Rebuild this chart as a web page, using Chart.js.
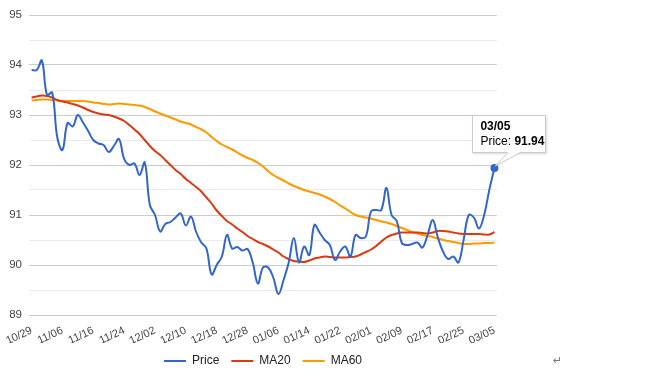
<!DOCTYPE html>
<html lang="en">
<head>
<meta charset="UTF-8">
<title>Price / MA20 / MA60</title>
<script src="https://cdn.jsdelivr.net/npm/chart.js@4.4.0/dist/chart.umd.min.js"></script>
<style>
  body { margin: 0; background: #fff; }
  .wrap { position: relative; width: 670px; height: 377px; }
  #tip {
    position: absolute; box-sizing: border-box; width: 74px; height: 38px;
    background: #fff; border: 1px solid #ccc; box-shadow: 1px 1px 2px rgba(0,0,0,0.15);
    font: 12px "Liberation Sans", Arial, sans-serif; color: #000;
    padding: 3px 0 0 7px; line-height: 15px; white-space: nowrap;
  }
  #tip b { font-weight: bold; }
  #tail { position: absolute; left: 0; top: 0; pointer-events: none; }
  .mark { position: absolute; left: 553px; top: 354px; font: 11px "DejaVu Sans", sans-serif; color: #777; }
</style>
</head>
<body>
<div class="wrap">
  <canvas id="chart" width="670" height="377"></canvas>
  <div id="tip"><b>03/05</b><br>Price: <b>91.94</b></div>
  <svg id="tail" width="670" height="377"></svg>
  <span class="mark">↵</span>
</div>
<script>
// trading days on the category axis
const dates = [
  '10/29','10/30','10/31','11/01','11/04','11/05',
  '11/06','11/07','11/08','11/11','11/12','11/14',
  '11/16','11/18','11/19','11/20','11/21','11/22',
  '11/24','11/25','11/26','11/27','11/28','11/29',
  '12/02','12/03','12/04','12/05','12/06','12/09',
  '12/10','12/11','12/12','12/13','12/16','12/17',
  '12/18','12/19','12/20','12/23','12/24','12/26',
  '12/28','12/30','12/31','01/02','01/03','01/04',
  '01/06','01/07','01/08','01/09','01/10','01/13',
  '01/14','01/15','01/16','01/17','01/20','01/21',
  '01/22','01/23','01/24','01/27','01/29','01/31',
  '02/01','02/03','02/04','02/05','02/06','02/07',
  '02/09','02/10','02/11','02/12','02/13','02/14',
  '02/17','02/18','02/19','02/20','02/21','02/24',
  '02/25','02/26','02/27','02/28','03/02','03/03',
  '03/05'
];

// labels printed under the axis
const tickLabels = ['10/29','11/06','11/16','11/24','12/02','12/10','12/18','12/28',
  '01/06','01/14','01/22','02/01','02/09','02/17','02/25','03/05'];

const price = [
  93.9, 93.9, 94.09, 93.4, 93.45, 92.55, 92.3, 92.84, 92.77, 93.0,
  92.85, 92.68, 92.5, 92.43, 92.4, 92.26, 92.38, 92.52, 92.12, 92.0,
  92.03, 91.8, 92.05, 91.2, 91.0, 90.67, 90.82, 90.86, 90.95, 91.03,
  90.79, 90.97, 90.66, 90.45, 90.33, 89.81, 90.0, 90.17, 90.6, 90.33,
  90.36, 90.29, 90.32, 90.05, 89.63, 89.95, 89.95, 89.75, 89.42, 89.7,
  90.05, 90.54, 90.05, 90.37, 90.2, 90.8, 90.65, 90.5, 90.4, 90.1,
  90.27, 90.37, 90.17, 90.6, 90.54, 90.57, 91.07, 91.1, 91.1, 91.54,
  91.0, 90.88, 90.44, 90.4, 90.42, 90.45, 90.35, 90.6, 90.9, 90.55,
  90.27, 90.12, 90.17, 90.05, 90.5, 91.0, 90.95, 90.73, 91.0, 91.5,
  91.94
];

const ma20 = [
  93.35, 93.37, 93.39, 93.38, 93.35, 93.3, 93.27, 93.25, 93.22, 93.19,
  93.15, 93.1, 93.06, 93.03, 93.01, 93.0, 92.97, 92.93, 92.88, 92.8,
  92.71, 92.62, 92.5, 92.38, 92.28, 92.2, 92.1, 92.0, 91.9, 91.82,
  91.72, 91.64, 91.56, 91.47, 91.35, 91.23, 91.09, 90.98, 90.88, 90.81,
  90.73, 90.66, 90.58, 90.52, 90.46, 90.42, 90.37, 90.31, 90.25, 90.17,
  90.12, 90.08, 90.07, 90.06, 90.09, 90.13, 90.15, 90.17, 90.16, 90.15,
  90.15, 90.15, 90.16, 90.17, 90.21, 90.26, 90.31, 90.38, 90.47, 90.55,
  90.6, 90.63, 90.65, 90.65, 90.65, 90.65, 90.64, 90.63, 90.65, 90.68,
  90.68, 90.67, 90.65, 90.63, 90.62, 90.62, 90.62, 90.62, 90.61, 90.61,
  90.66
];

const ma60 = [
  93.29, 93.3, 93.31, 93.31, 93.3, 93.29, 93.28, 93.28, 93.28, 93.28,
  93.28, 93.27, 93.25, 93.24, 93.22, 93.21, 93.22, 93.23, 93.22, 93.21,
  93.2, 93.19, 93.16, 93.12, 93.07, 93.03, 92.99, 92.95, 92.91, 92.87,
  92.84, 92.81, 92.76, 92.71, 92.65, 92.56, 92.48, 92.41, 92.36, 92.31,
  92.25, 92.19, 92.14, 92.1, 92.04, 91.97, 91.88, 91.8, 91.74, 91.69,
  91.63, 91.58, 91.54, 91.5, 91.47, 91.44, 91.41, 91.37, 91.32, 91.26,
  91.19, 91.13, 91.06, 91.0, 90.97, 90.95, 90.93, 90.9, 90.87, 90.85,
  90.82, 90.78, 90.74, 90.7, 90.66, 90.63, 90.6, 90.58, 90.56, 90.53,
  90.5, 90.48, 90.46, 90.44, 90.42, 90.42, 90.43, 90.43, 90.44, 90.44,
  90.45
];

const last = price.length - 1;
const font = '"Liberation Sans", Arial, sans-serif';

const chart = new Chart(document.getElementById('chart'), {
  type: 'line',
  data: {
    labels: dates,
    datasets: [
      { label: 'Price', data: price, borderColor: '#3366cc', backgroundColor: '#3366cc',
        borderWidth: 2, tension: 0.4, pointBorderWidth: 2,
        pointRadius: ctx => ctx.dataIndex === last ? 3 : 0 },
      { label: 'MA20', data: ma20, borderColor: '#dc3912', backgroundColor: '#dc3912',
        borderWidth: 2, tension: 0.4, pointRadius: 0, pointBorderWidth: 2 },
      { label: 'MA60', data: ma60, borderColor: '#ff9900', backgroundColor: '#ff9900',
        borderWidth: 2, tension: 0.4, pointRadius: 0, pointBorderWidth: 2 }
    ]
  },
  options: {
    responsive: false,
    animation: false,
    events: [],
    layout: { padding: { left: 0, right: 173, top: 15, bottom: 0 } },
    scales: {
      x: {
        offset: true,
        grid: { display: false },
        border: { display: false },
        afterFit: s => { s.height = 28; },
        ticks: {
          autoSkip: false, minRotation: 25, maxRotation: 25, padding: 1,
          color: '#444', font: { family: font, size: 11 },
          callback: function (v, i) {
            const d = dates[i];
            return tickLabels.includes(d) ? d : '';
          }
        }
      },
      y: {
        min: 89, max: 95,
        border: { display: false },
        afterFit: s => { s.width = 29; },
        grid: {
          drawTicks: false,
          color: ctx => Number.isInteger(ctx.tick.value) ? '#cccccc' : '#ebebeb'
        },
        ticks: {
          stepSize: 0.5, padding: 7, color: '#444', font: { family: font, size: 11.5 },
          callback: v => Number.isInteger(v) ? v : ''
        }
      }
    },
    plugins: {
      tooltip: { enabled: false },
      legend: {
        position: 'bottom',
        fullSize: false,
        labels: {
          usePointStyle: true, pointStyle: 'line', pointStyleWidth: 22,
          padding: 12, color: '#222', font: { family: font, size: 12 }
        }
      }
    }
  }
});

// callout for the last price point
const pt = chart.getDatasetMeta(0).data[last];
const tip = document.getElementById('tip');
const boxLeft = pt.x - 22, boxTop = pt.y - 53, boxBottom = boxTop + 38;
tip.style.left = boxLeft + 'px';
tip.style.top = boxTop + 'px';
const ax = pt.x + 14, bx = pt.x + 27, tipY = pt.y - 2;
document.getElementById('tail').innerHTML =
  `<polygon points="${ax},${boxBottom - 1.5} ${pt.x + 1},${tipY} ${bx},${boxBottom - 1.5}" fill="#fff"/>` +
  `<polyline points="${ax},${boxBottom - 1} ${pt.x + 1},${tipY} ${bx},${boxBottom - 1}" fill="none" stroke="#c8c8c8" stroke-width="1"/>`;
</script>
</body>
</html>
